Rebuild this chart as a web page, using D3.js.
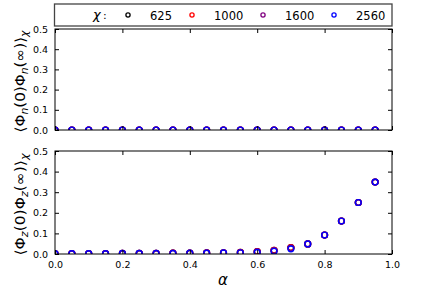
<!DOCTYPE html>
<html>
<head>
<meta charset="utf-8">
<script src="https://cdn.jsdelivr.net/npm/d3@7"></script>
<style>
  body { margin: 0; background: #fff; }
  svg { display: block; }
  text { font-family: "DejaVu Sans", sans-serif; }
</style>
</head>
<body>
<div id="chart-container"></div>
<script>
// alpha values (x)
const alpha = [0.0, 0.05, 0.1, 0.15, 0.2, 0.25, 0.3, 0.35, 0.4, 0.45,
  0.5, 0.55, 0.6, 0.65, 0.7, 0.75, 0.8, 0.85, 0.9, 0.95];

const chiLabels = ["625", "1000", "1600", "2560"];
const chiColors = ["#000000", "#ff0000", "#800080", "#0000ff"];

// top panel: <Phi_n(0) Phi_n(inf)>
const phiN625  = [0, 0, 0, 0, 0, 0, 0, 0, 0, 0, 0, 0, 0, 0, 0, 0, 0, 0, 0, 0];
const phiN1000 = [0, 0, 0, 0, 0, 0, 0, 0, 0, 0, 0, 0, 0, 0, 0, 0, 0, 0, 0, 0];
const phiN1600 = [0, 0, 0, 0, 0, 0, 0, 0, 0, 0, 0, 0, 0, 0, 0, 0, 0, 0, 0, 0];
const phiN2560 = [0, 0, 0, 0, 0, 0, 0, 0, 0, 0, 0, 0, 0, 0, 0, 0, 0, 0, 0, 0];

// bottom panel: <Phi_z(0) Phi_z(inf)>
const phiZ625  = [0.002, 0.002, 0.002, 0.002, 0.003, 0.003, 0.003, 0.004, 0.004, 0.005,
  0.006, 0.008, 0.012, 0.018, 0.031, 0.049, 0.092, 0.16, 0.25, 0.349];
const phiZ1000 = [0.002, 0.002, 0.002, 0.002, 0.003, 0.003, 0.003, 0.004, 0.004, 0.005,
  0.006, 0.008, 0.012, 0.018, 0.031, 0.049, 0.092, 0.16, 0.25, 0.349];
const phiZ1600 = [0.002, 0.002, 0.002, 0.002, 0.003, 0.003, 0.003, 0.004, 0.004, 0.005,
  0.006, 0.007, 0.011, 0.017, 0.029, 0.049, 0.092, 0.16, 0.25, 0.349];
const phiZ2560 = [0.002, 0.002, 0.002, 0.002, 0.003, 0.003, 0.003, 0.003, 0.004, 0.004,
  0.005, 0.006, 0.008, 0.013, 0.025, 0.049, 0.092, 0.16, 0.25, 0.349];

const yTicks = [0.0, 0.1, 0.2, 0.3, 0.4, 0.5];
const xTicks = [0.0, 0.2, 0.4, 0.6, 0.8, 1.0];

const svgWidth = 436;
const svgHeight = 291;

const svg = d3.select("#chart-container")
  .append("svg")
  .attr("width", svgWidth)
  .attr("height", svgHeight);

const x = d3.scaleLinear().domain([0, 1]).range([55, 392]);

const panels = [
  { top: 29, bottom: 130, series: [phiN625, phiN1000, phiN1600, phiN2560], sub: "n", showX: false, labelLen: 102 },
  { top: 151, bottom: 254, series: [phiZ625, phiZ1000, phiZ1600, phiZ2560], sub: "z", showX: true, labelLen: 102 }
];

panels.forEach((p, pi) => {
  const y = d3.scaleLinear().domain([0, 0.5]).range([p.bottom, p.top]);
  const g = svg.append("g");

  const clipId = "clip" + pi;
  svg.append("clipPath").attr("id", clipId)
    .append("rect")
    .attr("x", x(0)).attr("y", y(0.5))
    .attr("width", x(1) - x(0)).attr("height", y(0) - y(0.5));

  // points
  p.series.forEach((vals, si) => {
    g.append("g")
      .attr("clip-path", `url(#${clipId})`)
      .selectAll("circle")
      .data(alpha.map((a, i) => ({ a: a, v: vals[i] })))
      .enter()
      .append("circle")
      .attr("cx", (d) => x(d.a))
      .attr("cy", (d) => y(d.v))
      .attr("r", 2.9)
      .attr("fill", "none")
      .attr("stroke", chiColors[si])
      .attr("stroke-width", 1.4);
  });

  // axes (ticks inside, all four sides)
  const left = d3.axisLeft(y).tickValues(yTicks).tickSizeInner(-4).tickSizeOuter(0)
    .tickPadding(7).tickFormat(d3.format(".1f"));
  const right = d3.axisRight(y).tickValues(yTicks).tickSizeInner(-4).tickSizeOuter(0).tickFormat("");
  const bottom = d3.axisBottom(x).tickValues(xTicks).tickSizeInner(-4).tickSizeOuter(0)
    .tickPadding(7).tickFormat(p.showX ? d3.format(".1f") : "");
  const topAx = d3.axisTop(x).tickValues(xTicks).tickSizeInner(-4).tickSizeOuter(0).tickFormat("");

  [
    [left, `translate(${x(0)},0)`],
    [right, `translate(${x(1)},0)`],
    [bottom, `translate(0,${y(0)})`],
    [topAx, `translate(0,${y(0.5)})`]
  ].forEach(([ax, tr]) => {
    const a = g.append("g").attr("transform", tr).call(ax);
    a.select(".domain").remove();
    a.selectAll("text").attr("font-size", "9.5px").attr("fill", "#000")
      .attr("font-family", "DejaVu Sans, sans-serif");
    a.selectAll("line").attr("stroke", "#000");
  });

  g.append("rect")
    .attr("x", x(0)).attr("y", y(0.5))
    .attr("width", x(1) - x(0)).attr("height", y(0) - y(0.5))
    .attr("fill", "none").attr("stroke", "#000").attr("stroke-width", 1);

  // y label
  const cy = (p.top + p.bottom) / 2 + 2;
  const lab = svg.append("text")
    .attr("transform", `translate(25,${cy}) rotate(-90)`)
    .attr("text-anchor", "middle")
    .attr("font-family", "DejaVu Serif, serif")
    .attr("font-size", "14px")
    .attr("textLength", p.labelLen)
    .attr("lengthAdjust", "spacingAndGlyphs");
  lab.append("tspan").text("\u27E8\u03A6");
  lab.append("tspan").attr("font-style", "italic").attr("font-size", "10px").attr("dy", 3).text(p.sub);
  lab.append("tspan").attr("dy", -3).text("(0)\u03A6");
  lab.append("tspan").attr("font-style", "italic").attr("font-size", "10px").attr("dy", 3).text(p.sub);
  lab.append("tspan").attr("dy", -3).text("(\u221E)\u27E9");
  lab.append("tspan").attr("font-style", "italic").attr("font-size", "10px").attr("dy", 3).text("\u03C7");
});

// x label
svg.append("text")
  .attr("x", 223).attr("y", 285)
  .attr("text-anchor", "middle")
  .attr("font-family", "DejaVu Serif, serif")
  .attr("font-style", "italic")
  .attr("font-size", "15px")
  .text("\u03B1");

// legend
const legend = svg.append("g");
legend.append("rect")
  .attr("x", 54.5).attr("y", 4)
  .attr("width", 337.5).attr("height", 22)
  .attr("fill", "#fff").attr("stroke", "#444").attr("stroke-width", 1.3);
legend.append("text")
  .attr("x", 93).attr("y", 19)
  .attr("font-family", "DejaVu Serif, serif")
  .attr("font-style", "italic")
  .attr("font-size", "13px")
  .text("\u03C7");
legend.append("text")
  .attr("x", 103).attr("y", 19)
  .attr("font-size", "11px")
  .text(":");

const legMarkX = [128, 192, 263, 334];
const legTextX = [150, 214, 285, 356];
chiLabels.forEach((lbl, i) => {
  legend.append("circle")
    .attr("cx", legMarkX[i]).attr("cy", 15)
    .attr("r", 2.1)
    .attr("fill", "none")
    .attr("stroke", chiColors[i])
    .attr("stroke-width", 1.3);
  legend.append("text")
    .attr("x", legTextX[i]).attr("y", 19.5)
    .attr("font-size", "11.5px")
    .text(lbl);
});
</script>
</body>
</html>
